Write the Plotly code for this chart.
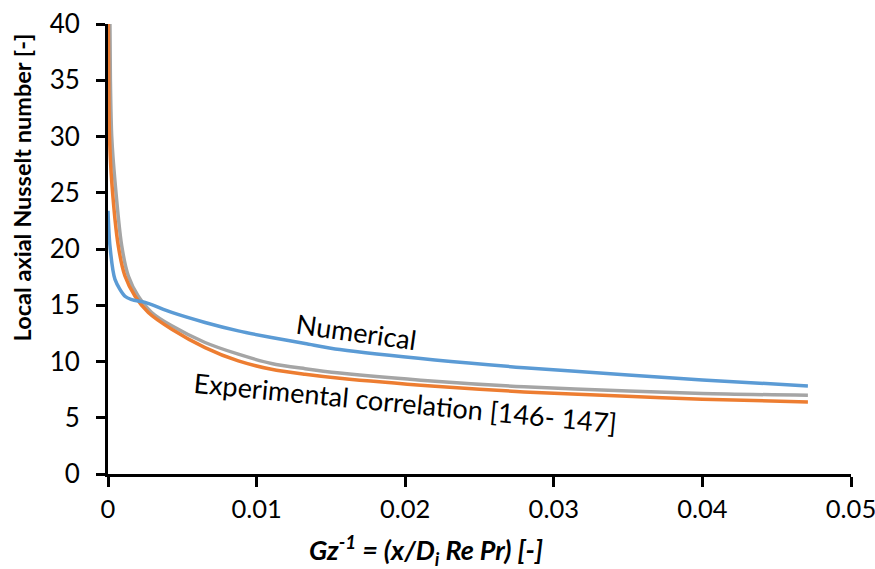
import plotly.graph_objects as go

# Numerical (blue)
num_x = [0.0, 0.00013, 0.00047, 0.00114, 0.0016, 0.0025, 0.00429, 0.00653, 0.00877, 0.011, 0.01326, 0.0156, 0.022, 0.028, 0.035, 0.040, 0.0471]
num_y = [23.4, 20.3, 17.3, 15.8, 15.5, 15.25, 14.36, 13.47, 12.72, 12.13, 11.6, 11.06, 10.13, 9.45, 8.8, 8.35, 7.83]

# Experimental correlation (orange)
exp_x = [0.00002, 0.00005, 0.0001, 0.00025, 0.00069, 0.00114, 0.00182, 0.00271, 0.00429, 0.00653, 0.00877, 0.011, 0.01326, 0.0156, 0.022, 0.028, 0.0345, 0.040, 0.0471]
exp_y = [40.0, 35.0, 30.0, 26.0, 20.3, 17.6, 15.8, 14.36, 12.87, 11.24, 10.05, 9.31, 8.87, 8.51, 7.8, 7.3, 6.94, 6.65, 6.41]

# Third series (gray)
gray_x = [0.00013, 0.00016, 0.00025, 0.00047, 0.00092, 0.00137, 0.00204, 0.00294, 0.00429, 0.00653, 0.00877, 0.011, 0.01326, 0.0156, 0.022, 0.028, 0.035, 0.040, 0.0471]
gray_y = [40.0, 35.0, 30.0, 26.0, 20.3, 17.6, 15.8, 14.36, 13.17, 11.69, 10.65, 9.82, 9.36, 8.98, 8.25, 7.75, 7.38, 7.15, 7.0]

x_ticks = [0, 0.01, 0.02, 0.03, 0.04, 0.05]
x_ticktext = ["0", "0.01", "0.02", "0.03", "0.04", "0.05"]
y_ticks = [0, 5, 10, 15, 20, 25, 30, 35, 40]

FONT = "Lato"

fig = go.Figure()
fig.add_trace(go.Scatter(x=gray_x, y=gray_y, mode="lines",
                         line=dict(color="#A5A5A5", width=3.5, shape="spline", smoothing=0.8)))
fig.add_trace(go.Scatter(x=exp_x, y=exp_y, mode="lines",
                         line=dict(color="#ED7D31", width=3.5, shape="spline", smoothing=0.8)))
fig.add_trace(go.Scatter(x=num_x, y=num_y, mode="lines",
                         line=dict(color="#5B9BD5", width=3.5, shape="spline", smoothing=0.8)))

fig.update_layout(
    width=875, height=569,
    margin=dict(l=108, r=24, t=24, b=95, autoexpand=False),
    paper_bgcolor="white", plot_bgcolor="white",
    showlegend=False,
    font=dict(family=FONT, size=26, color="black"),
    xaxis=dict(range=[0, 0.05], tickvals=x_ticks, ticktext=x_ticktext, automargin=False,
               ticklabeloverflow="allow",
               showgrid=False, zeroline=False, showline=True, linecolor="black", linewidth=3,
               ticks="outside", ticklen=10, tickwidth=2.5, tickcolor="black",
               ticklabelstandoff=0, tickfont=dict(family=FONT, size=25.5)),
    yaxis=dict(range=[0, 40], tickvals=y_ticks, automargin=False,
               ticklabeloverflow="allow",
               showgrid=False, zeroline=False, showline=True, linecolor="black", linewidth=3,
               ticks="outside", ticklen=9, tickwidth=2.5, tickcolor="black",
               ticklabelstandoff=11, tickfont=dict(family=FONT, size=26)),
)

fig.add_annotation(text="<b>Local axial Nusselt number [-]</b>", xref="paper", yref="paper",
                   x=-0.1157, y=0.637, xanchor="center", yanchor="middle", textangle=-90, showarrow=False,
                   font=dict(family=FONT, size=23.5, color="black"))
fig.add_annotation(text="<b><i>Gz<sup>-1</sup> = (x/D<sub>i</sub> Re Pr) [-]</i></b>", xref="paper", yref="paper",
                   x=0.428, y=-0.168, xanchor="center", yanchor="middle", showarrow=False,
                   font=dict(family=FONT, size=27, color="black"))
fig.add_annotation(text="Numerical", x=0.01669, y=12.68, xanchor="center", yanchor="middle",
                   textangle=8, showarrow=False,
                   font=dict(family=FONT, size=27, color="black"))
fig.add_annotation(text="Experimental correlation [146- 147]", x=0.01999, y=6.37, xanchor="center", yanchor="middle",
                   textangle=5.5, showarrow=False,
                   font=dict(family=FONT, size=27, color="black"))

fig.write_html("out.html")
